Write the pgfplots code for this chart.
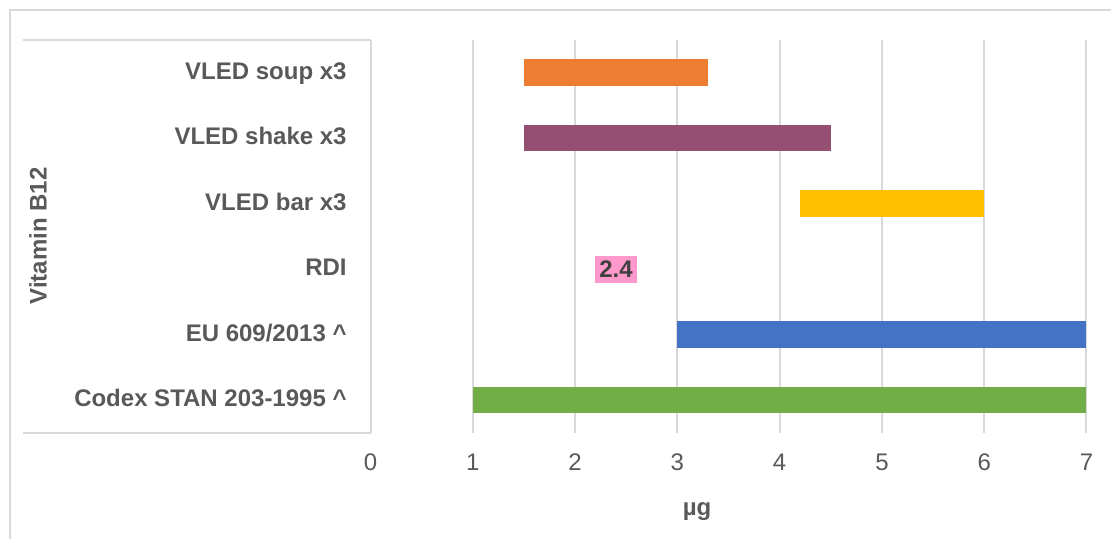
\documentclass[border=0pt]{standalone}
\usepackage{pgfplots}
\pgfplotsset{compat=1.18}
\usepackage{pgfplotstable}
\usepackage{fontspec}
\setmainfont{Liberation Sans}
\definecolor{gridc}{HTML}{D9D9D9}
\definecolor{txt}{HTML}{595959}
\definecolor{cgreen}{HTML}{70AD47}
\definecolor{cblue}{HTML}{4472C4}
\definecolor{cyellow}{HTML}{FFC000}
\definecolor{cpurple}{HTML}{954F72}
\definecolor{corange}{HTML}{ED7D31}
\definecolor{cpink}{HTML}{FF99CC}
\pgfplotstableread{
y start codex eu bar shake soup
0 1   6 0 0   0 0
1 3   0 4 0   0 0
2 2.4 0 0 0   0 0
3 4.2 0 0 1.8 0 0
4 1.5 0 0 0   3 0
5 1.5 0 0 0   0 1.8
}\data
\begin{document}
\begin{tikzpicture}
\path[use as bounding box] (0,0) rectangle (555.5pt,269.5pt);
% outer chart border (cropped)
\draw[gridc, line width=1pt] (5pt,0) -- (5pt,264.5pt) -- (555.5pt,264.5pt);
% category group box
\draw[gridc, line width=1pt] (11.5pt,249.5pt) -- (185.25pt,249.5pt);
\draw[gridc, line width=1pt] (11.5pt,53pt) -- (185.25pt,53pt);
\begin{axis}[
  at={(185.25pt,53pt)}, anchor=south west,
  scale only axis, width=358pt, height=196.5pt,
  xmin=0, xmax=7, ymin=-0.5, ymax=5.5,
  xbar stacked, bar width=13.25pt,
  axis line style={draw=none},
  tick style={draw=none},
  major tick length=0pt,
  xtick={0,1,...,7},
  ytick={0,1,...,5},
  yticklabels={Codex STAN 203-1995 \textasciicircum, EU 609/2013 \textasciicircum, RDI, VLED bar x3, VLED shake x3, VLED soup x3},
  xmajorgrids, ymajorgrids=false,
  major grid style={gridc, line width=1pt},
  /pgf/number format/assume math mode=true,
  xticklabel style={font=\fontsize{12}{14}\selectfont, text=txt, anchor=base, yshift=-18.85pt},
  yticklabel style={font=\bfseries\fontsize{12}{14}\selectfont, text=txt, anchor=base east, inner sep=0pt, xshift=-11.75pt, yshift=-3.3pt},
]
\addplot[draw=none, fill=none] table[x=start, y=y] {\data};
\addplot[draw=none, fill=cgreen] table[x=codex, y=y] {\data};
\addplot[draw=none, fill=cblue] table[x=eu, y=y] {\data};
\addplot[draw=none, fill=cyellow] table[x=bar, y=y] {\data};
\addplot[draw=none, fill=cpurple] table[x=shake, y=y] {\data};
\addplot[draw=none, fill=corange] table[x=soup, y=y] {\data};
\end{axis}
% RDI data label, same geometry, no stacking
\begin{axis}[
  at={(185.25pt,53pt)}, anchor=south west,
  scale only axis, width=358pt, height=196.5pt,
  xmin=0, xmax=7, ymin=-0.5, ymax=5.5,
  hide axis,
]
\addplot[only marks, mark=none,
  nodes near coords={2.4}, nodes near coords align={center},
  every node near coord/.append style={anchor=center, fill=cpink, inner sep=0pt,
    minimum width=20.85pt, minimum height=13.35pt,
    font=\bfseries\fontsize{12}{14}\selectfont, text=black!75}]
  coordinates {(2.4,2)};
\end{axis}
\node[rotate=90, font=\bfseries\fontsize{12}{14}\selectfont, text=txt] at (19pt,151.5pt) {Vitamin B12};
\node[anchor=base, font=\bfseries\fontsize{12}{14}\selectfont, text=txt] at (348.5pt,11.5pt) {µg};
\end{tikzpicture}
\end{document}
